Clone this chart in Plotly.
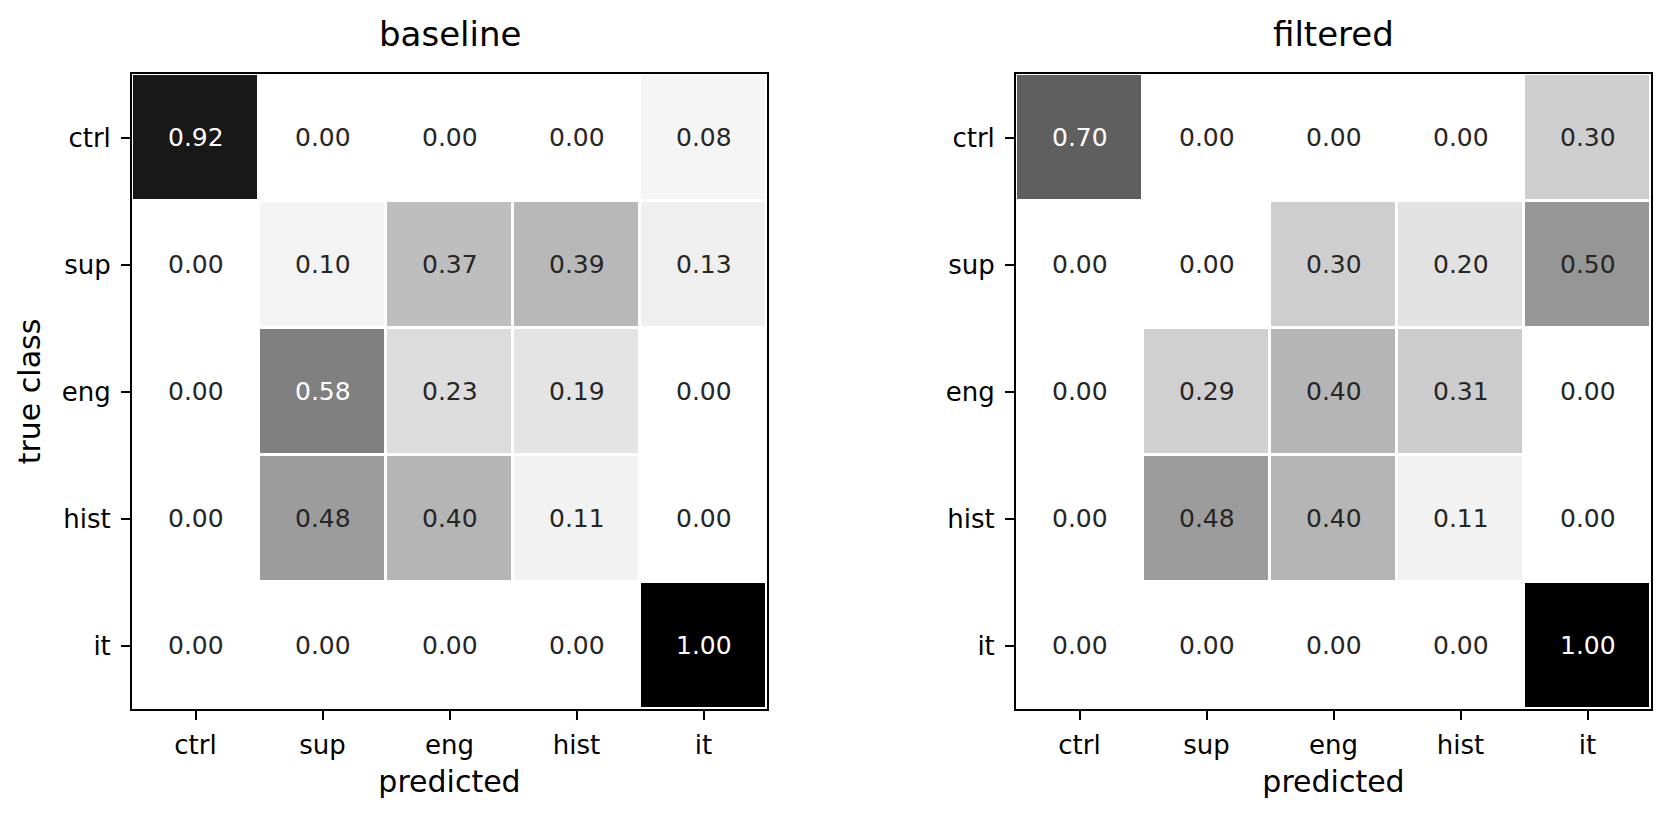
import plotly.graph_objects as go

classes = ["ctrl", "sup", "eng", "hist", "it"]

baseline = [
    [0.92, 0.00, 0.00, 0.00, 0.08],
    [0.00, 0.10, 0.37, 0.39, 0.13],
    [0.00, 0.58, 0.23, 0.19, 0.00],
    [0.00, 0.48, 0.40, 0.11, 0.00],
    [0.00, 0.00, 0.00, 0.00, 1.00],
]

filtered = [
    [0.70, 0.00, 0.00, 0.00, 0.30],
    [0.00, 0.00, 0.30, 0.20, 0.50],
    [0.00, 0.29, 0.40, 0.31, 0.00],
    [0.00, 0.48, 0.40, 0.11, 0.00],
    [0.00, 0.00, 0.00, 0.00, 1.00],
]

panel_titles = ["baseline", "filtered"]
x_title = "predicted"
y_title = "true class"

# matplotlib "Greys"
greys = ["#ffffff", "#f0f0f0", "#d9d9d9", "#bdbdbd", "#969696",
         "#737373", "#525252", "#252525", "#000000"]
colorscale = [[i / 8, c] for i, c in enumerate(greys)]

FONT = "DejaVu Sans"
W, H = 1671, 817
L, R, T, B = 132, 20, 74, 108
plot_w = W - L - R
left_dom = [0, 635 / plot_w]
right_dom = [(1016 - L) / plot_w, 1]

fig = go.Figure()
annotations = []

for k, (mat, title, dom) in enumerate(zip([baseline, filtered], panel_titles, [left_dom, right_dom])):
    xa = "x" if k == 0 else "x2"
    ya = "y" if k == 0 else "y2"
    fig.add_trace(go.Heatmap(
        z=mat, x=classes, y=classes,
        colorscale=colorscale, zmin=0, zmax=1,
        xgap=3, ygap=3, showscale=False,
        xaxis=xa, yaxis=ya, hoverinfo="skip",
    ))
    for i, row in enumerate(mat):
        for j, v in enumerate(row):
            annotations.append(dict(
                x=classes[j], y=classes[i], xref=xa, yref=ya,
                text=f"{v:.2f}", showarrow=False,
                font=dict(family=FONT, size=25,
                          color="#ffffff" if v >= 0.55 else "#262626"),
            ))
    annotations.append(dict(
        x=(dom[0] + dom[1]) / 2, y=1 + 40 / (H - T - B), xref="paper", yref="paper",
        text=title, showarrow=False, xanchor="center", yanchor="middle",
        font=dict(family=FONT, size=34, color="#000000"),
    ))

axis_common = dict(
    showline=True, linecolor="#000000", linewidth=2, mirror=True,
    ticks="outside", ticklen=9, tickwidth=2, tickcolor="#000000",
    showgrid=False, zeroline=False,
    tickfont=dict(family=FONT, size=26, color="#000000"),
    type="category",
)

xtitle = dict(text=x_title, font=dict(family=FONT, size=30, color="#000000"), standoff=12)

fig.update_layout(
    width=W, height=H,
    margin=dict(l=L, r=R, t=T, b=B),
    paper_bgcolor="#ffffff", plot_bgcolor="#ffffff",
    annotations=annotations,
    xaxis=dict(domain=left_dom, anchor="y", ticklabelstandoff=3, title=xtitle, **axis_common),
    yaxis=dict(domain=[0, 1], anchor="x", autorange="reversed", ticklabelstandoff=5, **axis_common,
               title=dict(text=y_title, font=dict(family=FONT, size=30, color="#000000"), standoff=12)),
    xaxis2=dict(domain=right_dom, anchor="y2", ticklabelstandoff=3, title=xtitle, **axis_common),
    yaxis2=dict(domain=[0, 1], anchor="x2", autorange="reversed", ticklabelstandoff=5, **axis_common),
    showlegend=False,
)

fig.write_html("out.html")
